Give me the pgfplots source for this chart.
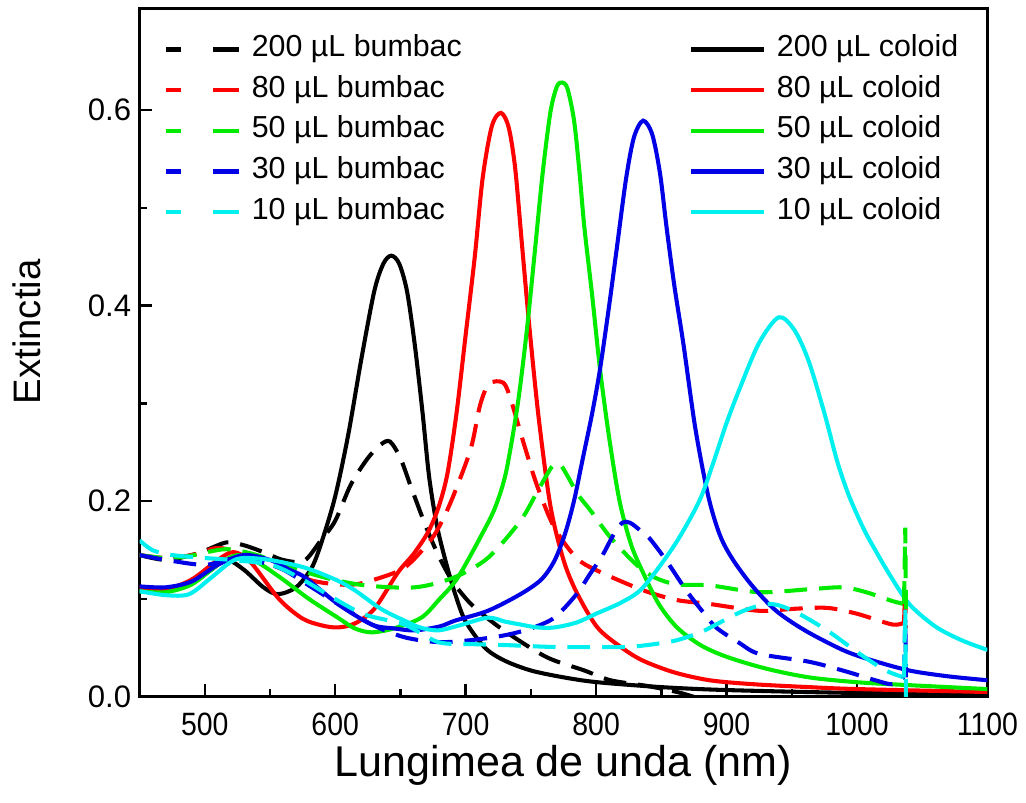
\documentclass[border=0pt]{standalone}
\usepackage{fontspec}
\setmainfont{Liberation Sans}
\newfontfamily\narrowsans[FakeStretch=0.88]{Liberation Sans}
\usepackage{pgfplots}
\pgfplotsset{compat=1.18}
\definecolor{oRed}{RGB}{255,0,0}
\definecolor{oGreen}{RGB}{0,235,0}
\definecolor{oBlue}{RGB}{0,0,230}
\definecolor{oCyan}{RGB}{0,240,240}
\pgfplotsset{
  legend image code/.code={\draw[#1] (0cm,0cm) -- (1.08cm,0cm);},
  dsh/.style={line width=1.7pt, dash pattern=on 9.5pt off 5pt,
    legend image post style={dash pattern=on 6.2pt off 13.7pt on 10.6pt off 20pt}},
  sld/.style={line width=1.7pt},
}
\begin{document}
\begin{tikzpicture}
\begin{axis}[
  width=12.46cm, height=10.12cm, scale only axis,
  xmin=450, xmax=1100, ymin=0, ymax=0.704,
  xtick={500,600,...,1100}, minor x tick num=1,
  ytick={0,0.2,0.4,0.6}, minor y tick num=1,
  tick align=inside, xtick pos=left, ytick pos=left,
  major tick length=0.19cm, minor tick length=0.11cm,
  every tick/.style={black, line width=1pt},
  axis line style={line width=1.2pt},
  /pgf/number format/assume math mode=true,
  yticklabel style={font=\fontsize{13}{15}\selectfont,
    /pgf/number format/.cd, fixed, fixed zerofill, precision=1},
  xticklabel style={font=\narrowsans\fontsize{13.5}{15}\selectfont,
    /pgf/number format/1000 sep={}, yshift=-0.11cm},
  xlabel={Lungimea de unda (nm)}, ylabel={Extinctia},
  xlabel style={font=\fontsize{18}{21}\selectfont, at={(axis description cs:0.5,-0.1)}, anchor=center},
  ylabel style={font=\fontsize{16}{19}\selectfont, at={(axis description cs:-0.133,0.53)}, anchor=center},
  legend columns=2, legend cell align=left,
  legend style={at={(0.028,0.965)}, anchor=north west, draw=none, fill=none,
    inner sep=0pt, row sep=3pt, font=\fontsize{12.7}{14}\selectfont,
    nodes={text height=9pt, text depth=3pt, inner sep=1pt},
    /tikz/every odd column/.append style={column sep=0.12cm},
    /tikz/every even column/.append style={column sep=3.3cm}},
]
% 200 uL
\addplot[dsh, black, smooth] coordinates {
(450,0.145)(470,0.140)(490,0.145)(501,0.150)(517,0.158)(530,0.155)(545,0.148)(560,0.140)(576,0.139)(589,0.160)(600,0.180)(612,0.217)(625,0.244)(635,0.258)(642,0.261)(650,0.244)(658,0.215)(669,0.176)(679,0.145)(690,0.118)(704,0.095)(720,0.077)(737,0.061)(763,0.040)(791,0.027)(811,0.017)(840,0.011)(862,0.005)(875,0.0)};
\addlegendentry{200 µL bumbac}
\addplot[sld, black, smooth] coordinates {
(450,0.110)(470,0.108)(490,0.116)(505,0.130)(517,0.140)(530,0.130)(545,0.112)(556,0.105)(570,0.112)(582,0.132)(590,0.160)(600,0.205)(610,0.268)(620,0.345)(630,0.415)(637,0.443)(643,0.451)(649,0.443)(655,0.415)(661,0.360)(667,0.290)(672,0.225)(678,0.175)(685,0.137)(692,0.105)(700,0.077)(715,0.050)(730,0.037)(750,0.027)(775,0.020)(801,0.015)(850,0.010)(900,0.007)(1000,0.004)(1100,0.003)};
\addlegendentry{200 µL coloid}
% 80 uL
\addplot[dsh, oRed, smooth] coordinates {
(450,0.145)(470,0.142)(490,0.145)(508,0.152)(520,0.150)(534,0.142)(557,0.132)(582,0.119)(602,0.115)(615,0.115)(628,0.119)(653,0.132)(673,0.160)(682,0.180)(691,0.207)(704,0.254)(711,0.298)(718,0.320)(729,0.321)(735,0.302)(745,0.257)(755,0.215)(768,0.173)(785,0.142)(801,0.129)(836,0.109)(862,0.099)(887,0.095)(925,0.088)(951,0.090)(977,0.091)(1000,0.085)(1027,0.074)(1036,0.076)};
\addlegendentry{80 µL bumbac}
\addplot[sld, oRed, smooth] coordinates {
(450,0.112)(470,0.110)(490,0.120)(510,0.140)(522,0.148)(535,0.138)(557,0.100)(575,0.080)(590,0.073)(602,0.071)(615,0.075)(630,0.090)(648,0.127)(660,0.146)(671,0.168)(679,0.193)(686,0.228)(693,0.290)(700,0.370)(707,0.450)(713,0.530)(720,0.583)(727,0.597)(733,0.582)(738,0.540)(743,0.465)(749,0.376)(756,0.285)(765,0.195)(775,0.140)(785,0.107)(801,0.071)(820,0.050)(836,0.037)(860,0.025)(887,0.017)(920,0.013)(963,0.010)(1000,0.008)(1100,0.005)};
\addlegendentry{80 µL coloid}
% 50 uL
\addplot[dsh, oGreen, smooth] coordinates {
(450,0.145)(470,0.142)(488,0.144)(516,0.151)(540,0.145)(560,0.135)(592,0.122)(623,0.114)(661,0.112)(691,0.122)(717,0.142)(742,0.180)(755,0.210)(766,0.235)(772,0.238)(778,0.226)(786,0.207)(796,0.190)(811,0.163)(831,0.135)(845,0.122)(862,0.115)(887,0.114)(925,0.107)(963,0.110)(989,0.112)(1007,0.107)(1027,0.098)(1036,0.095)};
\addlegendentry{50 µL bumbac}
\addplot[sld, oGreen, smooth] coordinates {
(450,0.108)(470,0.107)(490,0.115)(510,0.135)(525,0.145)(540,0.138)(560,0.120)(580,0.100)(602,0.081)(615,0.070)(628,0.066)(645,0.070)(666,0.081)(680,0.100)(694,0.122)(714,0.170)(723,0.195)(731,0.230)(740,0.300)(747,0.376)(753,0.455)(759,0.535)(765,0.598)(770,0.624)(774,0.628)(778,0.622)(783,0.590)(787,0.540)(791,0.480)(797,0.410)(803,0.335)(810,0.265)(818,0.200)(827,0.155)(836,0.127)(848,0.095)(862,0.071)(880,0.053)(900,0.041)(930,0.029)(963,0.020)(1000,0.015)(1040,0.012)(1100,0.008)};
\addlegendentry{50 µL coloid}
% 30 uL
\addplot[dsh, oBlue, smooth] coordinates {
(450,0.145)(475,0.139)(501,0.135)(526,0.142)(557,0.132)(582,0.112)(602,0.095)(628,0.074)(653,0.061)(679,0.056)(704,0.058)(730,0.063)(750,0.070)(768,0.081)(785,0.105)(795,0.125)(805,0.145)(813,0.165)(820,0.178)(826,0.178)(834,0.170)(841,0.162)(854,0.139)(869,0.109)(880,0.090)(892,0.071)(910,0.055)(925,0.044)(963,0.036)(989,0.027)(1014,0.017)(1027,0.013)(1036,0.020)};
\addlegendentry{30 µL bumbac}
\addplot[sld, oBlue, smooth] coordinates {
(450,0.113)(470,0.112)(490,0.118)(510,0.135)(530,0.145)(550,0.140)(565,0.130)(577,0.122)(602,0.095)(628,0.074)(645,0.070)(661,0.068)(680,0.072)(692,0.078)(717,0.088)(742,0.105)(758,0.120)(768,0.139)(776,0.166)(783,0.200)(790,0.245)(797,0.290)(803,0.335)(810,0.400)(816,0.460)(823,0.530)(829,0.572)(836,0.589)(843,0.575)(849,0.535)(854,0.480)(860,0.420)(867,0.360)(876,0.275)(886,0.205)(895,0.165)(905,0.140)(920,0.113)(938,0.088)(960,0.068)(989,0.048)(1010,0.038)(1040,0.027)(1070,0.021)(1100,0.017)};
\addlegendentry{30 µL coloid}
% 10 uL
\addplot[dsh, oCyan, smooth] coordinates {
(450,0.160)(460,0.150)(475,0.145)(500,0.142)(520,0.140)(551,0.135)(575,0.120)(600,0.100)(623,0.084)(653,0.074)(679,0.056)(704,0.054)(730,0.053)(768,0.051)(801,0.051)(824,0.051)(845,0.054)(862,0.058)(880,0.066)(892,0.074)(913,0.088)(933,0.095)(951,0.088)(977,0.068)(1002,0.044)(1022,0.027)(1036,0.020)};
\addlegendentry{10 µL bumbac}
\addplot[sld, oCyan, smooth] coordinates {
(450,0.108)(470,0.104)(488,0.105)(505,0.122)(520,0.138)(530,0.142)(550,0.140)(577,0.132)(600,0.120)(615,0.109)(635,0.090)(653,0.078)(665,0.071)(679,0.068)(695,0.073)(717,0.081)(730,0.077)(742,0.074)(755,0.071)(768,0.071)(785,0.076)(800,0.085)(820,0.097)(836,0.112)(860,0.155)(879,0.200)(890,0.240)(900,0.280)(910,0.315)(925,0.362)(940,0.388)(952,0.375)(963,0.343)(975,0.290)(985,0.240)(994,0.205)(1005,0.172)(1014,0.150)(1025,0.125)(1040,0.095)(1060,0.072)(1080,0.058)(1100,0.048)};
\addlegendentry{10 µL coloid}
% spikes at the end of the cotton spectra
\addplot[dsh, oRed, forget plot] coordinates {(1036,0.076)(1037,0.110)(1037.5,0.070)};
\addplot[dsh, oGreen, forget plot] coordinates {(1036,0.095)(1037,0.173)(1037.5,0.090)};
\addplot[dsh, oBlue, forget plot] coordinates {(1036,0.020)(1037,0.080)(1037.5,0.020)};
\addplot[dsh, oCyan, forget plot] coordinates {(1036,0.020)(1037,0.090)(1037.5,0.000)};
\end{axis}
\path ([shift={(-2.05cm,-1.55cm)}]current axis.south west) rectangle ([shift={(0.48cm,0.12cm)}]current axis.north east);
\end{tikzpicture}
\end{document}
